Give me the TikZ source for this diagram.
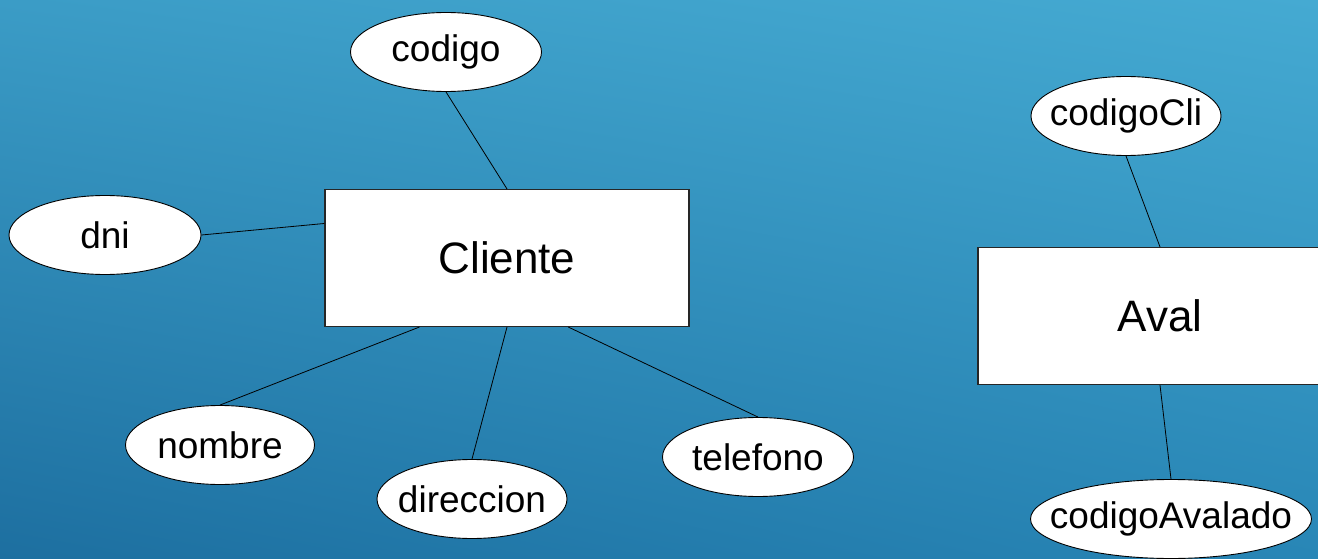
\documentclass[tikz,border=0pt]{standalone}
\usepackage{fontspec}
\setmainfont{Liberation Sans}
\usetikzlibrary{shapes.geometric,calc,shadings}
\definecolor{bgTL}{HTML}{3B9CC6}
\definecolor{bgTR}{HTML}{45AAD2}
\definecolor{bgBL}{HTML}{1D6FA0}
\definecolor{bgBR}{HTML}{2886B6}
\tikzset{
  entity/.style={draw=black!85, line width=1.1pt, fill=white, rectangle,
    minimum width=364pt, minimum height=137pt, inner sep=0pt,
    font=\fontsize{44}{48}\selectfont},
  attr/.style={draw=black, line width=0.9pt, fill=white, ellipse, inner sep=0pt,
    minimum height=79pt, font=\fontsize{37}{40}\selectfont},
  link/.style={draw=black, line width=0.8pt}
}
\newcommand{\zw}[1]{\makebox[0pt][c]{#1}}
\begin{document}
\begin{tikzpicture}[x=1pt,y=-1pt]
\useasboundingbox (0,0) rectangle (1318,559);
\clip (0,0) rectangle (1318,559);
\shade[upper left=bgTL, upper right=bgTR, lower left=bgBL, lower right=bgBR] (0,0) rectangle (1318,559);
% entities
\node[entity] (cliente) at (507,258) {Cliente};
\node[entity] (aval) at (1160,316) {Aval};
% attributes
\node[attr, minimum width=191pt] (codigo) at (446,52) {\zw{codigo}};
\node[attr, minimum width=192pt] (dni) at (105,235) {\zw{dni}};
\node[attr, minimum width=189pt] (nombre) at (220,445) {\zw{nombre}};
\node[attr, minimum width=190pt] (direccion) at (472,499) {\zw{direccion}};
\node[attr, minimum width=191pt] (telefono) at (758,457) {\zw{telefono}};
\node[attr, minimum width=190pt] (codigoCli) at (1126,116) {\zw{codigoCli}};
\node[attr, minimum width=281pt] (codigoAvalado) at (1171,519) {\zw{codigoAvalado}};
% connectors
\draw[link] (codigo.south) -- (cliente.north);
\draw[link] (dni.east) -- ($(cliente.north west)!0.25!(cliente.south west)$);
\draw[link] (nombre.north) -- ($(cliente.south west)!0.26!(cliente.south east)$);
\draw[link] (direccion.north) -- (cliente.south);
\draw[link] (telefono.north) -- ($(cliente.south west)!0.668!(cliente.south east)$);
\draw[link] (codigoCli.south) -- (aval.north);
\draw[link] (codigoAvalado.north) -- (aval.south);
\end{tikzpicture}
\end{document}
